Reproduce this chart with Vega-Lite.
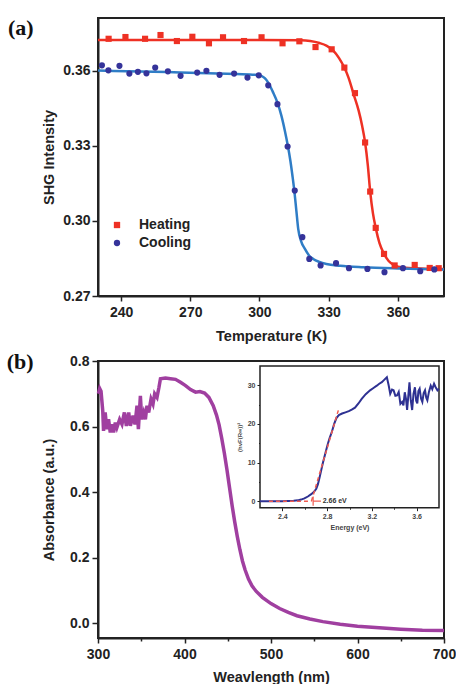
{
  "$schema": "https://vega.github.io/schema/vega-lite/v6.json",
  "background": "white",
  "padding": {"left": 5, "top": 15, "right": 0, "bottom": 0},
  "spacing": 5,
  "align": "none",
  "config": {
    "view": {"stroke": "#222", "strokeWidth": 2},
    "axis": {
      "labelFont": "Liberation Sans", "labelFontWeight": "bold", "labelFontSize": 14, "labelColor": "#222",
      "titleFont": "Liberation Sans", "titleFontWeight": "bold", "titleFontSize": 14.5, "titleColor": "#222",
      "domainColor": "#222", "domainWidth": 2, "tickColor": "#222", "tickWidth": 1.5, "grid": false,
      "labelOverlap": false, "labelFlush": false
    }
  },
  "datasets": {
    "pts": [
      {"T": 234.6, "I": 0.3727, "series": "Heating"}, {"T": 241.9, "I": 0.3734, "series": "Heating"},
      {"T": 250.4, "I": 0.3727, "series": "Heating"}, {"T": 257.1, "I": 0.3742, "series": "Heating"},
      {"T": 264.2, "I": 0.3718, "series": "Heating"}, {"T": 270.9, "I": 0.3735, "series": "Heating"},
      {"T": 278.1, "I": 0.3709, "series": "Heating"}, {"T": 284.2, "I": 0.3733, "series": "Heating"},
      {"T": 293.3, "I": 0.3718, "series": "Heating"}, {"T": 300.9, "I": 0.3733, "series": "Heating"},
      {"T": 310.0, "I": 0.3709, "series": "Heating"}, {"T": 317.3, "I": 0.3717, "series": "Heating"},
      {"T": 324.3, "I": 0.3694, "series": "Heating"}, {"T": 331.3, "I": 0.3685, "series": "Heating"},
      {"T": 336.8, "I": 0.3612, "series": "Heating"}, {"T": 341.4, "I": 0.3510, "series": "Heating"},
      {"T": 345.8, "I": 0.3313, "series": "Heating"}, {"T": 348.0, "I": 0.3117, "series": "Heating"},
      {"T": 350.4, "I": 0.2972, "series": "Heating"}, {"T": 354.0, "I": 0.2868, "series": "Heating"},
      {"T": 358.6, "I": 0.2822, "series": "Heating"}, {"T": 367.3, "I": 0.2824, "series": "Heating"},
      {"T": 373.8, "I": 0.2812, "series": "Heating"}, {"T": 377.7, "I": 0.2811, "series": "Heating"},
      {"T": 231.7, "I": 0.3621, "series": "Cooling"}, {"T": 234.5, "I": 0.3601, "series": "Cooling"},
      {"T": 239.3, "I": 0.3619, "series": "Cooling"}, {"T": 243.6, "I": 0.3588, "series": "Cooling"},
      {"T": 247.3, "I": 0.3595, "series": "Cooling"}, {"T": 251.0, "I": 0.3589, "series": "Cooling"},
      {"T": 254.8, "I": 0.3612, "series": "Cooling"}, {"T": 260.3, "I": 0.3597, "series": "Cooling"},
      {"T": 265.8, "I": 0.3579, "series": "Cooling"}, {"T": 273.0, "I": 0.3592, "series": "Cooling"},
      {"T": 277.0, "I": 0.3599, "series": "Cooling"}, {"T": 282.7, "I": 0.3583, "series": "Cooling"},
      {"T": 289.0, "I": 0.3588, "series": "Cooling"}, {"T": 294.8, "I": 0.3572, "series": "Cooling"},
      {"T": 299.7, "I": 0.3581, "series": "Cooling"}, {"T": 303.8, "I": 0.3541, "series": "Cooling"},
      {"T": 307.8, "I": 0.3466, "series": "Cooling"}, {"T": 312.2, "I": 0.3297, "series": "Cooling"},
      {"T": 315.3, "I": 0.3121, "series": "Cooling"}, {"T": 318.6, "I": 0.2935, "series": "Cooling"},
      {"T": 321.6, "I": 0.2848, "series": "Cooling"}, {"T": 326.5, "I": 0.2822, "series": "Cooling"},
      {"T": 333.2, "I": 0.2831, "series": "Cooling"}, {"T": 338.8, "I": 0.2811, "series": "Cooling"},
      {"T": 346.8, "I": 0.2808, "series": "Cooling"}, {"T": 354.2, "I": 0.2795, "series": "Cooling"},
      {"T": 362.2, "I": 0.2811, "series": "Cooling"}, {"T": 369.7, "I": 0.2799, "series": "Cooling"},
      {"T": 375.8, "I": 0.2806, "series": "Cooling"}
    ],
    "heatFit": [
      {"T": 230, "I": 0.3722}, {"T": 300, "I": 0.3722}, {"T": 318, "I": 0.3721}, {"T": 322, "I": 0.3718},
      {"T": 326, "I": 0.3710}, {"T": 329, "I": 0.3700}, {"T": 332, "I": 0.3680}, {"T": 334.5, "I": 0.3650},
      {"T": 336.8, "I": 0.3612}, {"T": 338.6, "I": 0.3572}, {"T": 341, "I": 0.3500}, {"T": 343, "I": 0.3440},
      {"T": 344.5, "I": 0.3380}, {"T": 345.8, "I": 0.3313}, {"T": 347, "I": 0.3220}, {"T": 348, "I": 0.3117},
      {"T": 349.2, "I": 0.3030}, {"T": 350.4, "I": 0.2972}, {"T": 352, "I": 0.2912}, {"T": 354, "I": 0.2868},
      {"T": 356, "I": 0.2840}, {"T": 358.6, "I": 0.2822}, {"T": 362, "I": 0.2814}, {"T": 370, "I": 0.2810},
      {"T": 380, "I": 0.2808}
    ],
    "coolFit": [
      {"T": 230, "I": 0.3600}, {"T": 260, "I": 0.3594}, {"T": 290, "I": 0.3586}, {"T": 298, "I": 0.3583},
      {"T": 301, "I": 0.3578}, {"T": 302.3, "I": 0.3570}, {"T": 303.8, "I": 0.3552}, {"T": 305.8, "I": 0.3515},
      {"T": 307.8, "I": 0.3472}, {"T": 309.5, "I": 0.3420}, {"T": 311, "I": 0.3360}, {"T": 312.3, "I": 0.3300},
      {"T": 313.4, "I": 0.3240}, {"T": 314.3, "I": 0.3180}, {"T": 315.1, "I": 0.3121}, {"T": 316.0, "I": 0.3040},
      {"T": 316.8, "I": 0.2968}, {"T": 318.0, "I": 0.2920}, {"T": 319.7, "I": 0.2888}, {"T": 321.5, "I": 0.2862},
      {"T": 323.3, "I": 0.2848}, {"T": 326, "I": 0.2836}, {"T": 329, "I": 0.2828}, {"T": 335, "I": 0.2821},
      {"T": 345, "I": 0.2815}, {"T": 360, "I": 0.2810}, {"T": 380, "I": 0.2806}
    ],
    "abs": [
      {"nm": 300.5, "A": 0.700}, {"nm": 302, "A": 0.716}, {"nm": 303.5, "A": 0.708}, {"nm": 305.5, "A": 0.648},
      {"nm": 306.4, "A": 0.587}, {"nm": 308.3, "A": 0.643}, {"nm": 310.2, "A": 0.592}, {"nm": 312.2, "A": 0.622},
      {"nm": 314.2, "A": 0.582}, {"nm": 316, "A": 0.607}, {"nm": 318, "A": 0.582}, {"nm": 320, "A": 0.612},
      {"nm": 321.8, "A": 0.597}, {"nm": 325, "A": 0.622}, {"nm": 327.7, "A": 0.607}, {"nm": 330.5, "A": 0.643},
      {"nm": 332.8, "A": 0.602}, {"nm": 335.5, "A": 0.643}, {"nm": 337.4, "A": 0.602}, {"nm": 340.5, "A": 0.633},
      {"nm": 342.8, "A": 0.607}, {"nm": 345.1, "A": 0.664}, {"nm": 346.7, "A": 0.592}, {"nm": 349, "A": 0.694},
      {"nm": 350.5, "A": 0.622}, {"nm": 352.8, "A": 0.643}, {"nm": 354.8, "A": 0.622}, {"nm": 356.6, "A": 0.664},
      {"nm": 358.6, "A": 0.643}, {"nm": 361.3, "A": 0.684}, {"nm": 363.6, "A": 0.669}, {"nm": 365.5, "A": 0.700},
      {"nm": 368.2, "A": 0.689}, {"nm": 370.5, "A": 0.720}, {"nm": 372.2, "A": 0.746}, {"nm": 378, "A": 0.748},
      {"nm": 383.8, "A": 0.746}, {"nm": 389.6, "A": 0.744}, {"nm": 395.4, "A": 0.735}, {"nm": 401.2, "A": 0.725},
      {"nm": 407, "A": 0.713}, {"nm": 412.8, "A": 0.705}, {"nm": 417.8, "A": 0.707}, {"nm": 423.2, "A": 0.702},
      {"nm": 428.2, "A": 0.689}, {"nm": 433.2, "A": 0.664}, {"nm": 437, "A": 0.635}, {"nm": 440, "A": 0.605},
      {"nm": 443, "A": 0.565}, {"nm": 446, "A": 0.520}, {"nm": 449, "A": 0.470}, {"nm": 452, "A": 0.415},
      {"nm": 455, "A": 0.360}, {"nm": 458, "A": 0.310}, {"nm": 461, "A": 0.265}, {"nm": 464, "A": 0.225},
      {"nm": 467, "A": 0.190}, {"nm": 470, "A": 0.163}, {"nm": 474, "A": 0.135}, {"nm": 478, "A": 0.114},
      {"nm": 483, "A": 0.097}, {"nm": 490, "A": 0.079}, {"nm": 500, "A": 0.060}, {"nm": 510, "A": 0.045},
      {"nm": 520, "A": 0.033}, {"nm": 530, "A": 0.023}, {"nm": 545, "A": 0.013}, {"nm": 560, "A": 0.005},
      {"nm": 580, "A": -0.003}, {"nm": 600, "A": -0.009}, {"nm": 625, "A": -0.014}, {"nm": 650, "A": -0.018},
      {"nm": 675, "A": -0.021}, {"nm": 700, "A": -0.022}
    ],
    "tauc": [
      {"E": 2.2, "F": 0}, {"E": 2.3, "F": 0}, {"E": 2.4, "F": 0}, {"E": 2.5, "F": 0.1}, {"E": 2.537, "F": 0.2},
      {"E": 2.567, "F": 0.4}, {"E": 2.597, "F": 0.7}, {"E": 2.628, "F": 1.2}, {"E": 2.658, "F": 1.8},
      {"E": 2.683, "F": 2.4}, {"E": 2.703, "F": 3.2}, {"E": 2.718, "F": 4.4}, {"E": 2.733, "F": 6.2},
      {"E": 2.748, "F": 8.1}, {"E": 2.763, "F": 10.0}, {"E": 2.778, "F": 11.7}, {"E": 2.793, "F": 13.4},
      {"E": 2.808, "F": 15.0}, {"E": 2.823, "F": 16.4}, {"E": 2.844, "F": 18.1}, {"E": 2.863, "F": 20.0},
      {"E": 2.883, "F": 21.5}, {"E": 2.905, "F": 22.3}, {"E": 2.934, "F": 22.7}, {"E": 2.964, "F": 23.0},
      {"E": 2.994, "F": 23.3}, {"E": 3.02, "F": 23.7}, {"E": 3.049, "F": 24.2}, {"E": 3.08, "F": 25.3},
      {"E": 3.109, "F": 26.5}, {"E": 3.145, "F": 27.7}, {"E": 3.184, "F": 28.7}, {"E": 3.214, "F": 29.3},
      {"E": 3.244, "F": 29.9}, {"E": 3.266, "F": 30.4}, {"E": 3.289, "F": 30.8}, {"E": 3.31, "F": 31.4},
      {"E": 3.334, "F": 32.1}, {"E": 3.35, "F": 30.0}, {"E": 3.364, "F": 27.8}, {"E": 3.38, "F": 28.9},
      {"E": 3.394, "F": 28.7}, {"E": 3.41, "F": 27.3}, {"E": 3.425, "F": 27.4}, {"E": 3.44, "F": 28.3},
      {"E": 3.455, "F": 25.2}, {"E": 3.47, "F": 25.7}, {"E": 3.482, "F": 24.8}, {"E": 3.494, "F": 28.2},
      {"E": 3.505, "F": 26.5}, {"E": 3.515, "F": 23.6}, {"E": 3.525, "F": 27.0}, {"E": 3.536, "F": 30.8},
      {"E": 3.548, "F": 26.0}, {"E": 3.56, "F": 23.6}, {"E": 3.572, "F": 27.8}, {"E": 3.585, "F": 29.5},
      {"E": 3.596, "F": 26.0}, {"E": 3.606, "F": 25.3}, {"E": 3.616, "F": 28.5}, {"E": 3.627, "F": 29.1},
      {"E": 3.64, "F": 26.5}, {"E": 3.651, "F": 25.7}, {"E": 3.663, "F": 28.0}, {"E": 3.675, "F": 28.7},
      {"E": 3.686, "F": 26.8}, {"E": 3.696, "F": 26.1}, {"E": 3.71, "F": 28.3}, {"E": 3.726, "F": 29.9},
      {"E": 3.74, "F": 29.0}, {"E": 3.756, "F": 30.4}, {"E": 3.77, "F": 29.5}, {"E": 3.786, "F": 28.7},
      {"E": 3.8, "F": 29.1}
    ],
    "tangent": [{"E": 2.66, "F": 0}, {"E": 2.9, "F": 23.5}],
    "baseline": [{"E": 2.28, "F": 0}, {"E": 2.66, "F": 0}],
    "one": [{"k": 1}]
  },
  "vconcat": [
    {
      "width": 346,
      "height": 278,
      "layer": [
        {
          "data": {"name": "heatFit"},
          "mark": {"type": "line", "color": "#EE3124", "strokeWidth": 2.5, "interpolate": "monotone"},
          "encoding": {
            "x": {"field": "T", "type": "quantitative", "title": "Temperature (K)",
              "scale": {"domain": [230, 380], "nice": false, "zero": false},
              "axis": {"values": [240, 255, 270, 285, 300, 315, 330, 345, 360, 375],
                "labelExpr": "datum.value % 30 === 0 ? datum.label : ''",
                "tickSize": {"condition": {"test": "datum.value % 30 === 0", "value": 5}, "value": 3},
                "labelPadding": 4, "titlePadding": 10}},
            "y": {"field": "I", "type": "quantitative", "title": "SHG Intensity",
              "scale": {"domain": [0.27, 0.381], "nice": false, "zero": false},
              "axis": {"values": [0.27, 0.285, 0.3, 0.315, 0.33, 0.345, 0.36, 0.375], "format": ".2f",
                "labelExpr": "round(datum.value*1000) % 30 === 0 ? datum.label : ''",
                "tickSize": {"condition": {"test": "round(datum.value*1000) % 30 === 0", "value": 6}, "value": 3},
                "labelPadding": 2, "titlePadding": 6}}
          }
        },
        {
          "data": {"name": "coolFit"},
          "mark": {"type": "line", "color": "#2F7DC6", "strokeWidth": 2.5, "interpolate": "monotone"},
          "encoding": {
            "x": {"field": "T", "type": "quantitative", "title": "Temperature (K)"},
            "y": {"field": "I", "type": "quantitative", "title": "SHG Intensity"}
          }
        },
        {
          "data": {"name": "pts"},
          "mark": {"type": "point", "filled": true, "size": 38, "opacity": 1},
          "encoding": {
            "x": {"field": "T", "type": "quantitative", "title": "Temperature (K)"},
            "y": {"field": "I", "type": "quantitative", "title": "SHG Intensity"},
            "color": {"field": "series", "type": "nominal",
              "scale": {"domain": ["Heating", "Cooling"], "range": ["#EE3124", "#35339A"]},
              "legend": {"orient": "none", "legendX": 12, "legendY": 200, "title": null, "padding": 0,
                "labelFont": "Liberation Sans", "labelFontWeight": "bold", "labelFontSize": 14, "labelColor": "#222",
                "symbolSize": 40, "labelOffset": 15, "rowPadding": 4, "symbolStrokeWidth": 0}},
            "shape": {"field": "series", "type": "nominal",
              "scale": {"domain": ["Heating", "Cooling"], "range": ["square", "circle"]},
              "legend": {"orient": "none", "legendX": 12, "legendY": 200, "title": null, "padding": 0,
                "labelFont": "Liberation Sans", "labelFontWeight": "bold", "labelFontSize": 14, "labelColor": "#222",
                "symbolSize": 40, "labelOffset": 15, "rowPadding": 4, "symbolStrokeWidth": 0}}
          }
        },
        {
          "data": {"name": "one"},
          "mark": {"type": "text", "text": "(a)", "font": "Liberation Serif", "fontWeight": "bold", "fontSize": 22,
            "align": "left", "baseline": "middle", "color": "#111"},
          "encoding": {
            "x": {"datum": 191, "type": "quantitative", "title": "Temperature (K)"},
            "y": {"datum": 0.3772, "type": "quantitative", "title": "SHG Intensity"}
          }
        }
      ]
    },
    {
      "width": 346,
      "height": 277,
      "layer": [
        {
          "layer": [
            {
              "data": {"name": "abs"},
              "mark": {"type": "line", "color": "#A03FA0", "strokeWidth": 3.5},
              "encoding": {
                "x": {"field": "nm", "type": "quantitative", "title": "Weavlength (nm)",
                  "scale": {"domain": [300, 700], "nice": false, "zero": false},
                  "axis": {"values": [300, 350, 400, 450, 500, 550, 600, 650, 700],
                    "labelExpr": "datum.value % 100 === 0 ? datum.label : ''",
                    "tickSize": {"condition": {"test": "datum.value % 100 === 0", "value": 5}, "value": 3},
                    "labelPadding": 4, "titlePadding": 9}},
                "y": {"field": "A", "type": "quantitative", "title": "Absorbance (a.u.)",
                  "scale": {"domain": [-0.045, 0.8], "nice": false, "zero": false},
                  "axis": {"values": [0, 0.1, 0.2, 0.3, 0.4, 0.5, 0.6, 0.7, 0.8], "format": ".1f",
                    "labelExpr": "round(datum.value*10) % 2 === 0 ? datum.label : ''",
                    "tickSize": {"condition": {"test": "round(datum.value*10) % 2 === 0", "value": 6}, "value": 3},
                    "labelPadding": 3, "titlePadding": 13}}
              }
            },
            {
              "data": {"name": "one"},
              "mark": {"type": "text", "text": "(b)", "font": "Liberation Serif", "fontWeight": "bold", "fontSize": 22,
                "align": "left", "baseline": "middle", "color": "#111"},
              "encoding": {
                "x": {"datum": 194.5, "type": "quantitative", "title": "Weavlength (nm)"},
                "y": {"datum": 0.797, "type": "quantitative", "title": "Absorbance (a.u.)"}
              }
            }
          ]
        },
        {
          "layer": [
            {
              "data": {"name": "one"},
              "mark": {"type": "rect", "fill": "white", "stroke": "#222", "strokeWidth": 1.5},
              "encoding": {
                "x": {"datum": 2.2, "type": "quantitative", "title": "Energy (eV)"},
                "x2": {"datum": 3.8},
                "y": {"datum": -1.7, "type": "quantitative", "title": "(hνF(R∞))²"},
                "y2": {"datum": 35}
              }
            },
            {
              "data": {"name": "tauc"},
              "mark": {"type": "line", "color": "#2E3192", "strokeWidth": 2},
              "encoding": {
                "x": {"field": "E", "type": "quantitative", "title": "Energy (eV)",
                  "scale": {"domain": [2.2, 3.8], "range": [162, 341], "nice": false, "zero": false},
                  "axis": {"orient": "bottom", "offset": -130.3, "values": [2.4, 2.6, 2.8, 3.0, 3.2, 3.4, 3.6], "format": ".1f",
                    "labelExpr": "round(datum.value*10) % 4 === 0 ? datum.label : ''",
                    "tickSize": {"condition": {"test": "round(datum.value*10) % 4 === 0", "value": 3}, "value": 1.5},
                    "tickWidth": 1, "domain": false, "labelFontSize": 7, "labelPadding": 2, "labelColor": "#444",
                    "titleFontSize": 7, "titlePadding": 4, "titleColor": "#444"}},
                "y": {"field": "F", "type": "quantitative", "title": "(hνF(R∞))²",
                  "scale": {"domain": [-1.7, 35], "range": [146.7, 5], "nice": false, "zero": false},
                  "axis": {"orient": "left", "offset": -162, "values": [0, 5, 10, 15, 20, 25, 30],
                    "labelExpr": "datum.value % 10 === 0 ? datum.label : ''",
                    "tickSize": {"condition": {"test": "datum.value % 10 === 0", "value": 3}, "value": 1.5},
                    "tickWidth": 1, "domain": false, "labelFontSize": 7, "labelPadding": 2, "labelColor": "#444",
                    "titleFontSize": 6, "titlePadding": 5, "titleColor": "#444"}}
              }
            },
            {
              "data": {"name": "baseline"},
              "mark": {"type": "line", "color": "#F05A4F", "strokeWidth": 1.5, "strokeDash": [4, 3]},
              "encoding": {
                "x": {"field": "E", "type": "quantitative", "title": "Energy (eV)"},
                "y": {"field": "F", "type": "quantitative", "title": "(hνF(R∞))²"}
              }
            },
            {
              "data": {"name": "tangent"},
              "mark": {"type": "line", "color": "#F05A4F", "strokeWidth": 1.5, "strokeDash": [4, 3]},
              "encoding": {
                "x": {"field": "E", "type": "quantitative", "title": "Energy (eV)"},
                "y": {"field": "F", "type": "quantitative", "title": "(hνF(R∞))²"}
              }
            },
            {
              "data": {"name": "one"},
              "mark": {"type": "rule", "color": "#F05A4F", "strokeWidth": 1.2},
              "encoding": {
                "x": {"datum": 2.675, "type": "quantitative", "title": "Energy (eV)"},
                "y": {"datum": -1.2, "type": "quantitative", "title": "(hνF(R∞))²"},
                "y2": {"datum": 1.2}
              }
            },
            {
              "data": {"name": "one"},
              "mark": {"type": "rule", "color": "#F05A4F", "strokeWidth": 1.2},
              "encoding": {
                "x": {"datum": 2.675, "type": "quantitative", "title": "Energy (eV)"},
                "x2": {"datum": 2.745},
                "y": {"datum": 0, "type": "quantitative", "title": "(hνF(R∞))²"}
              }
            },
            {
              "data": {"name": "one"},
              "mark": {"type": "text", "text": "2.66 eV", "font": "Liberation Sans", "fontWeight": "bold", "fontSize": 7,
                "align": "left", "baseline": "middle", "color": "#333"},
              "encoding": {
                "x": {"datum": 2.76, "type": "quantitative", "title": "Energy (eV)"},
                "y": {"datum": 0, "type": "quantitative", "title": "(hνF(R∞))²"}
              }
            }
          ]
        }
      ],
      "resolve": {"scale": {"x": "independent", "y": "independent"}}
    }
  ]
}
